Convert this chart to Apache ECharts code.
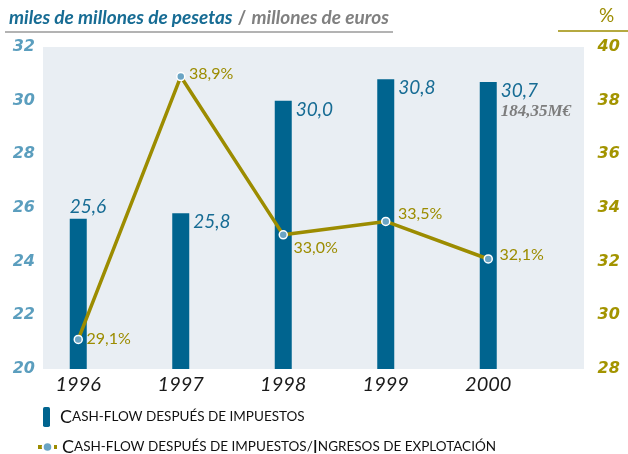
<!DOCTYPE html>
<html><head><meta charset="utf-8">
<script src="https://cdn.jsdelivr.net/npm/echarts@6/dist/echarts.min.js"></script>
<style>html,body{margin:0;padding:0;background:#fff}#c{width:628px;height:454px}</style>
</head><body><div id="c"></div>
<script>
const years = ['1996', '1997', '1998', '1999', '2000'];
const cashFlow = [25.6, 25.8, 30.0, 30.8, 30.7];
const ratio = [29.1, 38.9, 33.0, 33.5, 32.1];
const leftAxis = { min: 20, max: 32, interval: 2 };
const rightAxis = { min: 28, max: 40, interval: 2 };
const eurosNote = '184,35M€';
const titleMain = 'miles de millones de pesetas';
const titleSub = 'millones de euros';
const legendBar = ['C', 'ASH-FLOW DESPUÉS DE IMPUESTOS'];
const legendLine = ['C', 'ASH-FLOW DESPUÉS DE IMPUESTOS/', 'I', 'NGRESOS DE EXPLOTACIÓN'];

const FONT = 'Lato, "Open Sans", sans-serif';
const AXFONT = '"DejaVu Sans", sans-serif';
const BLUE = '#00648f';
const OLIVE = '#9c8c00';
const fmt = v => v.toFixed(1).replace('.', ',');

const barLabelPos = [
  { position: [0, -1], verticalAlign: 'bottom' },
  { position: [21, -2], verticalAlign: 'top' },
  { position: [21, -2], verticalAlign: 'top' },
  { position: [21, -2], verticalAlign: 'top' },
  { position: [21, -2], verticalAlign: 'top' }
];
const lineLabelPos = [[13, 4], [13, 2], [15, 18], [17, -3], [16, 1]];

const barData = cashFlow.map((v, i) => ({
  value: v,
  label: Object.assign({
    show: true, align: 'left',
    formatter: i === cashFlow.length - 1 ? '{v|' + fmt(v) + '}\n{n|' + eurosNote + '}' : '{v|' + fmt(v) + '}',
    rich: {
      v: { fontFamily: FONT, fontStyle: 'italic', fontSize: 19, color: '#176c94', lineHeight: 22 },
      n: { fontFamily: '"Liberation Serif", serif', fontStyle: 'italic', fontWeight: 'bold', fontSize: 17, color: '#7d7d7d', lineHeight: 20 }
    }
  }, barLabelPos[i])
}));
const lineData = ratio.map((v, i) => ({
  value: v,
  label: { show: true, position: lineLabelPos[i], align: 'left', verticalAlign: 'middle',
    formatter: fmt(v) + '%', fontFamily: FONT, fontSize: 16, color: OLIVE }
}));

const legendRich = {
  a: { fontFamily: FONT, fontSize: 18, color: '#111' },
  b: { fontFamily: FONT, fontSize: 13.5, color: '#111' }
};

const chart = echarts.init(document.getElementById('c'));
chart.setOption({
  animation: false,
  title: {
    left: 4, top: 3,
    text: '{a|' + titleMain + '} {b|/} {c|' + titleSub + '}',
    textStyle: { rich: {
      a: { fontFamily: FONT, fontStyle: 'italic', fontWeight: 'bold', fontSize: 19, color: '#176c94' },
      b: { fontFamily: FONT, fontWeight: 'bold', fontSize: 19, color: '#808080' },
      c: { fontFamily: FONT, fontStyle: 'italic', fontSize: 19, color: '#808080' }
    } }
  },
  graphic: [
    { type: 'rect', z: -10, silent: true, shape: { x: 43, y: 47, width: 541, height: 322 }, style: { fill: '#e9eef3' } },
    { type: 'line', silent: true, shape: { x1: 5, y1: 32, x2: 393, y2: 32 }, style: { stroke: '#9a9a9a', lineWidth: 1.5 } },
    { type: 'line', silent: true, shape: { x1: 558, y1: 31, x2: 628, y2: 31 }, style: { stroke: OLIVE, lineWidth: 1.5 } },
    { type: 'text', silent: true, left: 599, top: 6, style: { text: '%', fontFamily: FONT, fontSize: 19, fill: OLIVE } }
  ],
  legend: [
    { left: 38, top: 402, orient: 'vertical', itemWidth: 7, itemHeight: 20, itemGap: 8, data: ['bar'],
      formatter: () => '{a|' + legendBar[0] + '}{b|' + legendBar[1] + '}',
      textStyle: { rich: legendRich, padding: [0, 0, 0, 5] } },
    { left: 31, top: 433, orient: 'vertical', itemWidth: 19, itemHeight: 12, data: ['line'],
      lineStyle: { width: 4, type: [5, 3] },
      formatter: () => '{a|' + legendLine[0] + '}{b|' + legendLine[1] + '}{a|' + legendLine[2] + '}{b|' + legendLine[3] + '}',
      textStyle: { rich: legendRich } }
  ],
  grid: { left: 27, width: 512.5, top: 47, height: 322 },
  xAxis: {
    type: 'category', data: years,
    axisLine: { show: false }, axisTick: { show: false },
    axisLabel: { margin: 6, fontFamily: FONT, fontStyle: 'italic', fontSize: 20, color: '#1a1a1a' }
  },
  yAxis: [
    { type: 'value', min: leftAxis.min, max: leftAxis.max, interval: leftAxis.interval,
      splitLine: { show: false }, axisLine: { show: false }, axisTick: { show: false },
      axisLabel: { margin: -8, fontFamily: AXFONT, fontStyle: 'italic', fontWeight: 'bold', fontSize: 16, color: '#5b9ebe' } },
    { type: 'value', position: 'right', min: rightAxis.min, max: rightAxis.max, interval: rightAxis.interval,
      splitLine: { show: false }, axisLine: { show: false }, axisTick: { show: false },
      axisLabel: { margin: 58, fontFamily: AXFONT, fontStyle: 'italic', fontWeight: 'bold', fontSize: 16, color: '#a39400' } }
  ],
  series: [
    { name: 'bar', type: 'bar', yAxisIndex: 0, barWidth: 17, data: barData,
      itemStyle: { color: BLUE }, z: 2 },
    { name: 'line', type: 'line', yAxisIndex: 1, data: lineData, z: 3,
      lineStyle: { color: OLIVE, width: 3.5 },
      symbol: 'circle', symbolSize: 8,
      itemStyle: { color: '#6aa4c4', borderColor: '#ffffff', borderWidth: 1.5 } }
  ]
});
</script></body></html>
